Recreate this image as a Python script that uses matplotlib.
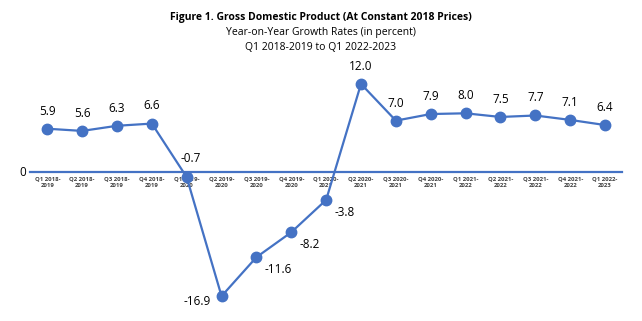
import matplotlib.pyplot as plt

quarters = ["Q1 2018-\n2019", "Q2 2018-\n2019", "Q3 2018-\n2019", "Q4 2018-\n2019",
            "Q1 2019-\n2020", "Q2 2019-\n2020", "Q3 2019-\n2020", "Q4 2019-\n2020",
            "Q1 2020-\n2021", "Q2 2020-\n2021", "Q3 2020-\n2021", "Q4 2020-\n2021",
            "Q1 2021-\n2022", "Q2 2021-\n2022", "Q3 2021-\n2022", "Q4 2021-\n2022",
            "Q1 2022-\n2023"]
growth = [5.9, 5.6, 6.3, 6.6, -0.7, -16.9, -11.6, -8.2, -3.8,
          12.0, 7.0, 7.9, 8.0, 7.5, 7.7, 7.1, 6.4]

blue = "#4472C4"
plt.rcParams["font.family"] = ["Open Sans", "DejaVu Sans"]

fig = plt.figure(figsize=(6.42, 3.21), dpi=100)
ax = fig.add_axes([0.047, 0.034, 0.922, 0.732])

x = list(range(len(growth)))
ax.plot(x, growth, color=blue, lw=1.6, marker="o", ms=7.5, zorder=3)

for i, v in enumerate(growth):
    if v >= 0:
        ax.annotate(f"{v:.1f}", (i, v), xytext=(0, 8), textcoords="offset points",
                    ha="center", va="bottom", fontsize=8.5)
    elif i == 4:
        ax.annotate(f"{v:.1f}", (i, v), xytext=(3, 9), textcoords="offset points",
                    ha="center", va="bottom", fontsize=8.5)
    elif i == 5:
        ax.annotate(f"{v:.1f}", (i, v), xytext=(-8, -4), textcoords="offset points",
                    ha="right", va="center", fontsize=8.5)
    else:
        ax.annotate(f"{v:.1f}", (i, v), xytext=(6, -9), textcoords="offset points",
                    ha="left", va="center", fontsize=8.5)

for s in ["top", "right", "left"]:
    ax.spines[s].set_visible(False)
ax.spines["bottom"].set_position(("data", 0))
ax.spines["bottom"].set_color(blue)
ax.spines["bottom"].set_linewidth(1.6)
ax.spines["bottom"].set_zorder(2)

ax.set_xlim(-0.49, 16.49)
ax.set_ylim(-18.8, 13.2)
ax.set_yticks([])
ax.set_xticks(x)
ax.set_xticklabels(quarters, fontsize=4.3, fontweight="bold", color="#404040",
                   linespacing=1.5)
ax.tick_params(axis="x", length=0, pad=3)
ax.text(-0.6, 0, "0", ha="right", va="center", fontsize=8.5)

fig.text(0.5, 0.947, "Figure 1. Gross Domestic Product (At Constant 2018 Prices)",
         ha="center", va="center", fontsize=7.5, fontweight="bold")
fig.text(0.5, 0.9, "Year-on-Year Growth Rates (in percent)",
         ha="center", va="center", fontsize=7.5)
fig.text(0.5, 0.853, "Q1 2018-2019 to Q1 2022-2023",
         ha="center", va="center", fontsize=7.5)

fig.savefig("out.png", dpi=100)
